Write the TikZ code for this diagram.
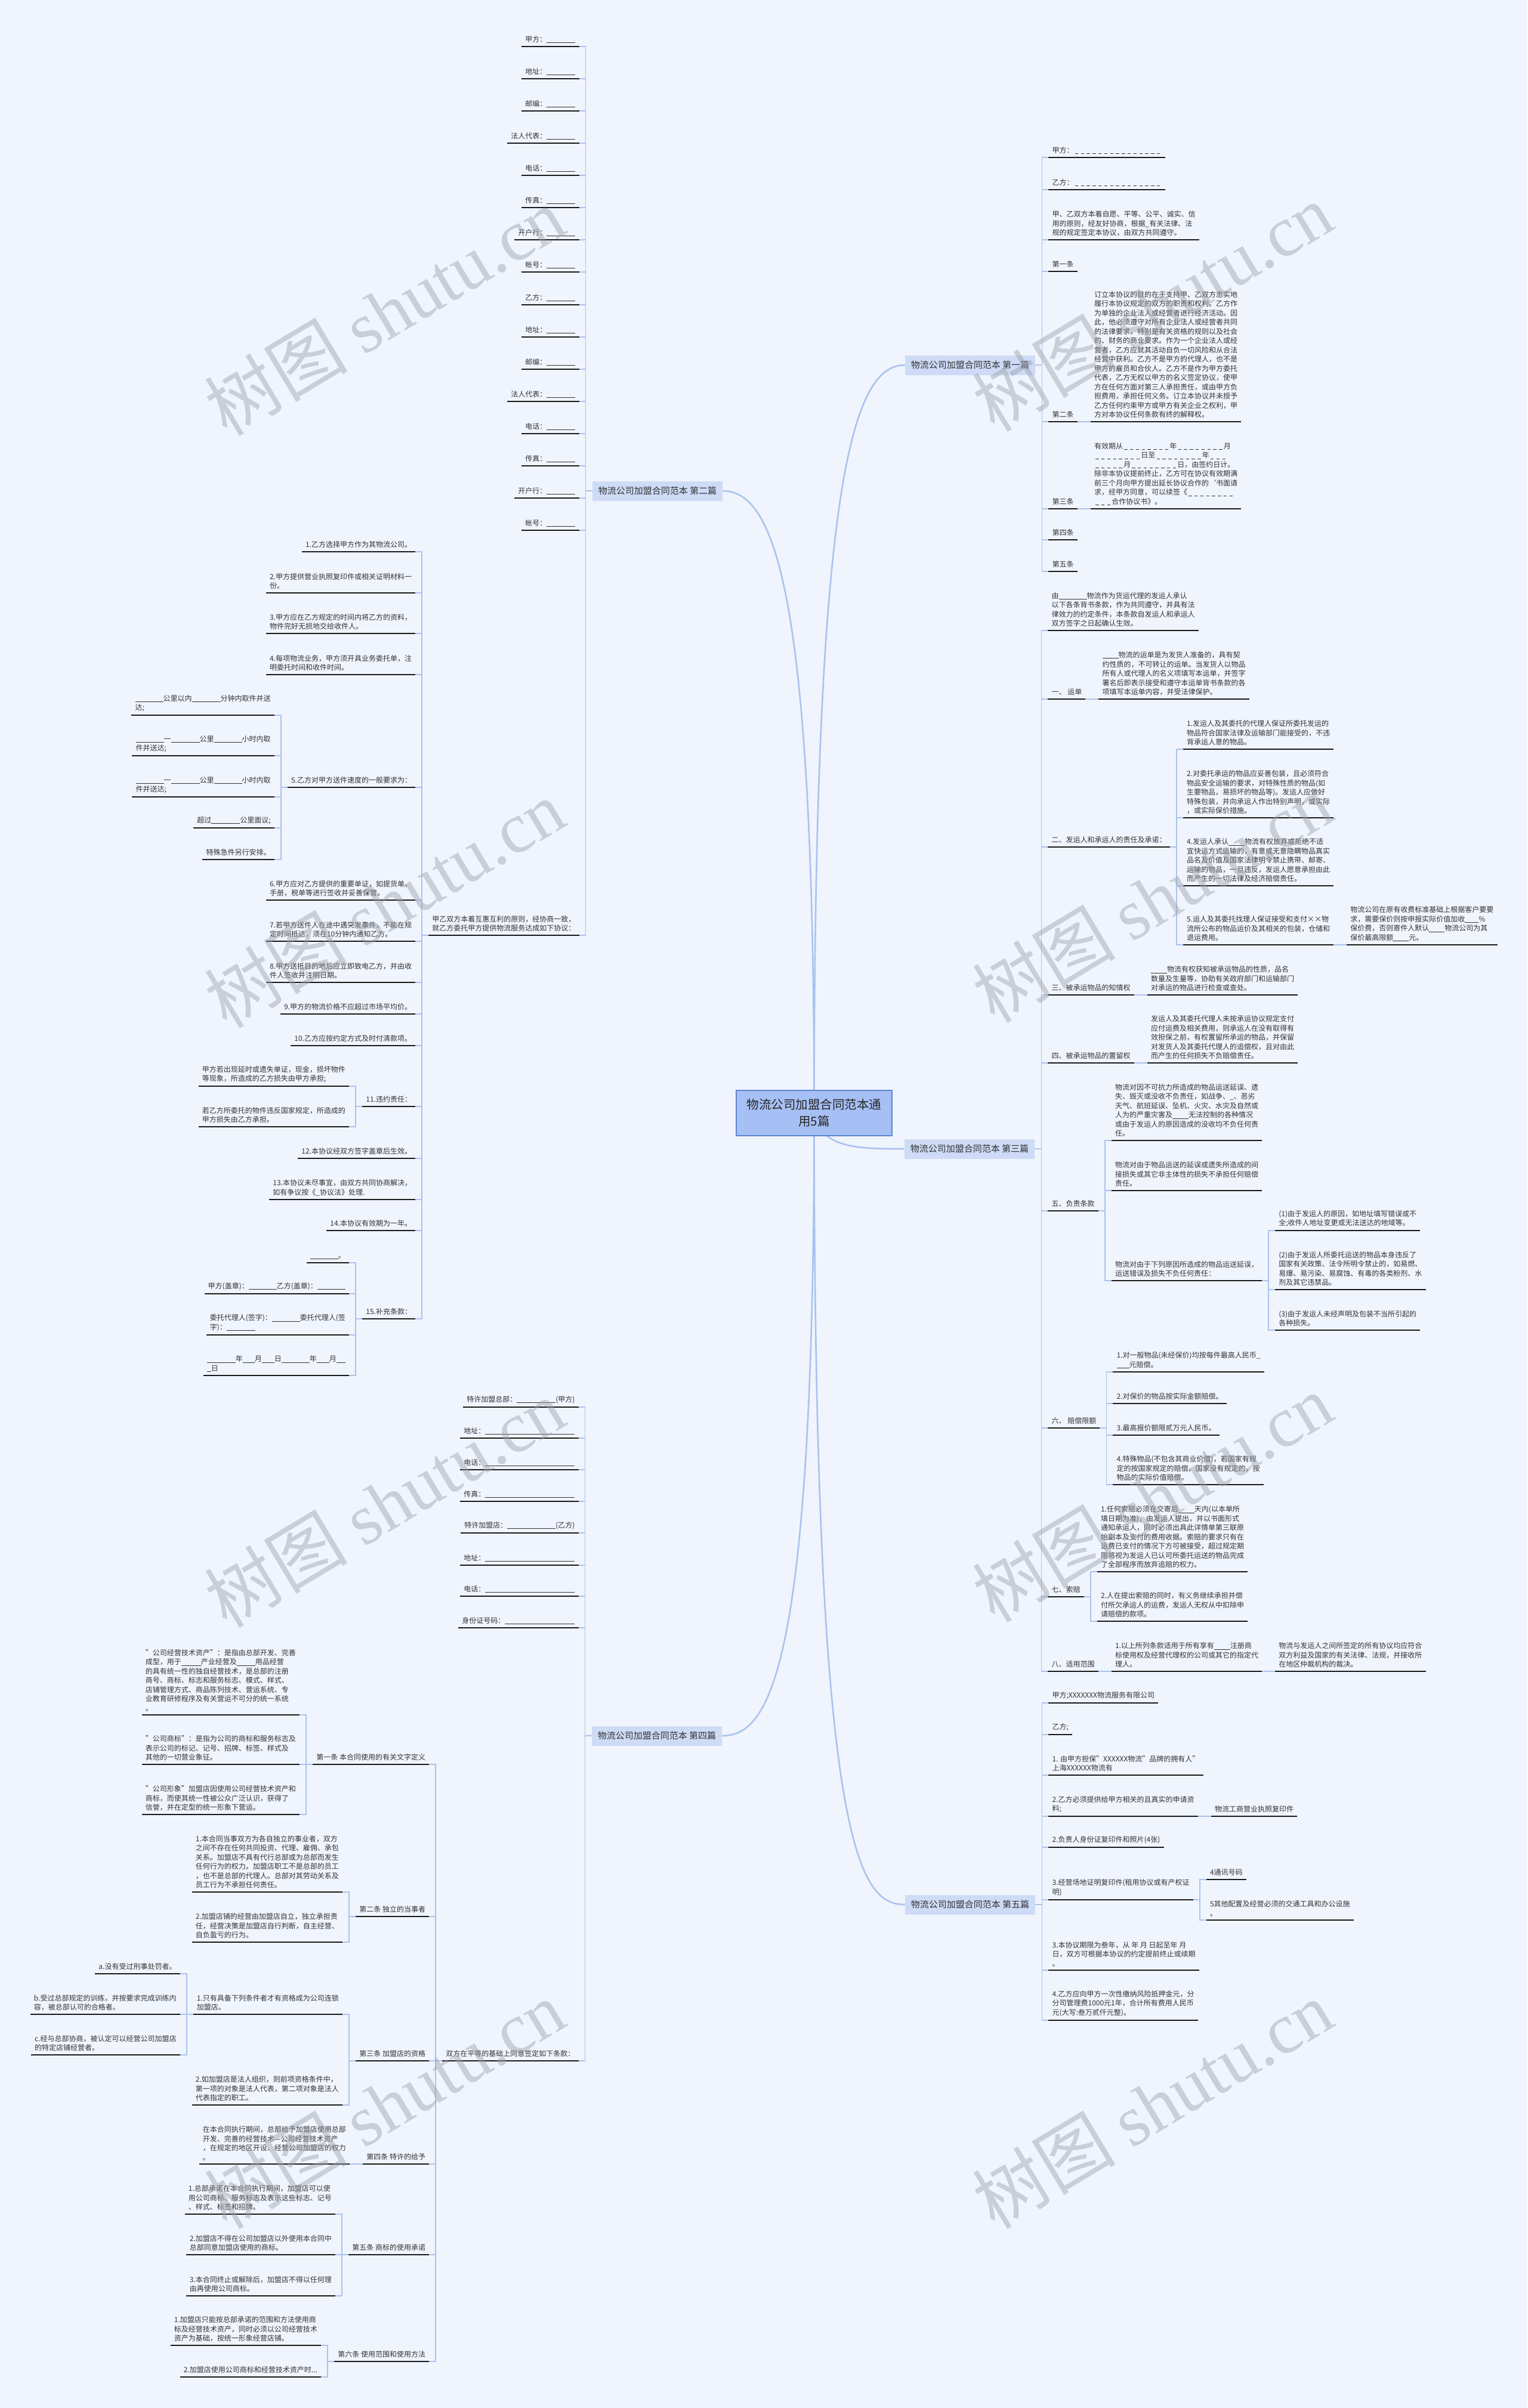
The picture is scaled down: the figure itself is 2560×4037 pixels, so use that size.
\documentclass[tikz,border=0pt]{standalone}
\usepackage{fontspec}
\setmainfont{Noto Sans CJK SC}
\newfontfamily\wmlat{Liberation Serif}
\usetikzlibrary{calc}
\definecolor{bgc}{HTML}{F0F4FC}
\definecolor{cline}{HTML}{A9C3EE}
\definecolor{bfill}{HTML}{CDDBF6}
\definecolor{rfill}{HTML}{A6BFF4}
\definecolor{rdraw}{HTML}{5E86CC}
\definecolor{tcol}{HTML}{333333}
\definecolor{wmc}{HTML}{9AA0AA}
\newcommand\lf{\fontsize{12}{15.5}\selectfont}
\newcommand\bl[1]{\rule[-1.6pt]{#1pt}{0.7pt}}
\newcommand\dsn[1]{\hbox to \dimexpr 9.8pt*#1\relax{\xleaders\hbox to 9.8pt{\hss\rule[-1.6pt]{5.5pt}{0.6pt}\hss}\hfill}}
\newcommand\RC[4]{%
  \coordinate (tmp) at ([xshift=22pt]#2);
  \node[leafR] (#1) at (tmp |- 0,#3) {#4};
  \draw[conn] (#2) -- ++(11,0) |- (#1.south west);
  \draw[uline] (#1.south west) -- (#1.south east);}
\newcommand\LC[4]{%
  \coordinate (tmp) at ([xshift=-22pt]#2);
  \node[leafL] (#1) at (tmp |- 0,#3) {#4};
  \draw[conn] (#2) -- ++(-11,0) |- (#1.south east);
  \draw[uline] (#1.south west) -- (#1.south east);}
\tikzset{
  conn/.style={draw=cline, line width=1.6pt},
  uline/.style={draw=black!90, line width=1.8pt},
  leafR/.style={anchor=south west, inner xsep=6pt, inner ysep=6pt, align=left, font=\lf, text=tcol},
  leafL/.style={anchor=south east, inner xsep=6pt, inner ysep=6pt, align=left, font=\lf, text=tcol},
  branch/.style={fill=bfill, inner xsep=10pt, inner ysep=0pt, minimum height=33pt, font=\fontsize{15}{18}\selectfont, text=tcol},
  rootbox/.style={fill=rfill, draw=rdraw, line width=1.2pt, minimum width=261pt, minimum height=76pt, align=center, font=\fontsize{20.5}{28}\selectfont, text=black!85},
  mainc/.style={draw=cline, line width=2.6pt},
  wmark/.style={rotate=31, text=wmc, opacity=0.45, inner sep=0pt}
}
\begin{document}
\begin{tikzpicture}[x=1pt,y=-1pt]
\useasboundingbox (0,0) rectangle (2560,4037);
\fill[bgc] (0,0) rectangle (2560,4037);
% branches
\node[branch] (B1) at (1626,612) {物流公司加盟合同范本 第一篇};
\node[branch] (B2) at (1102,823) {物流公司加盟合同范本 第二篇};
\node[branch] (B3) at (1625,1926) {物流公司加盟合同范本 第三篇};
\node[branch] (B4) at (1101,2910) {物流公司加盟合同范本 第四篇};
\node[branch] (B5) at (1626,3193) {物流公司加盟合同范本 第五篇};
\coordinate (Rc) at (1364.5,1866);
\draw[mainc] (Rc) .. controls (1364.5,1000) and (1300,823) .. (B2.east);
\draw[mainc] (Rc) .. controls (1364.5,800) and (1430,612) .. (B1.west);
\draw[mainc] (Rc) .. controls (1375,1926) and (1440,1926) .. (B3.west);
\draw[mainc] (Rc) .. controls (1364.5,2800) and (1290,2910) .. (B4.east);
\draw[mainc] (Rc) .. controls (1364.5,3100) and (1440,3193) .. (B5.west);
\node[rootbox] (R) at (Rc) {物流公司加盟合同范本通\\用5篇};
% ---------- 第一篇
\RC{p1a}{B1.east}{264}{甲方：\dsn{15}}
\RC{p1b}{B1.east}{318}{乙方：\dsn{15}}
\RC{p1c}{B1.east}{402}{甲、乙双方本着自愿、平等、公平、诚实、信\\用的原则，经友好协商，根据\_有关法律、法\\规的规定签定本协议，由双方共同遵守。}
\RC{p1d}{B1.east}{455}{第一条}
\RC{p1e}{B1.east}{707}{第二条}
\RC{p1e1}{p1e.south east}{707}{订立本协议的目的在于支持甲、乙双方忠实地\\履行本协议规定的双方的职责和权利。乙方作\\为单独的企业法人或经营者进行经济活动。因\\此，他必须遵守对所有企业法人或经营者共同\\的法律要求，特别是有关资格的规则以及社会\\的、财务的商业要求。作为一个企业法人或经\\营者，乙方应就其活动自负一切风险和从合法\\经营中获利。乙方不是甲方的代理人，也不是\\甲方的雇员和合伙人。乙方不是作为甲方委托\\代表，乙方无权以甲方的名义签定协议，使甲\\方在任何方面对第三人承担责任，或由甲方负\\担费用，承担任何义务。订立本协议并未授予\\乙方任何约束甲方或甲方有关企业之权利，甲\\方对本协议任何条款有终的解释权。}
\RC{p1f}{B1.east}{853}{第三条}
\RC{p1f1}{p1f.south east}{853}{有效期从\dsn{8}年\dsn{8}月\\\dsn{8}日至\dsn{8}年\dsn{3}\\\dsn{5}月\dsn{8}日，由签约日计。\\除非本协议提前终止，乙方可在协议有效期满\\前三个月向甲方提出延长协议合作的\symbol{96}书面请\\求，经甲方同意，可以续签《\dsn{8}\\\dsn{3}合作协议书》。}
\RC{p1g}{B1.east}{905}{第四条}
\RC{p1h}{B1.east}{958}{第五条}
% ---------- 第三篇
\RC{p3a}{B3.east}{1057}{由\bl{47}物流作为货运代理的发运人承认\\以下各条背书条款，作为共同遵守，并具有法\\律效力的约定条件，本条款自发运人和承运人\\双方签字之日起确认生效。}
\RC{p3b}{B3.east}{1172}{一、 运单}
\RC{p3b1}{p3b.south east}{1172}{\bl{27}物流的运单是为发货人准备的，具有契\\约性质的，不可转让的运单。当发货人以物品\\所有人或代理人的名义项填写本运单，并签字\\署名后即表示接受和遵守本运单背书条款的各\\项填写本运单内容，并受法律保护。}
\RC{p3c}{B3.east}{1420}{二、发运人和承运人的责任及承诺：}
\RC{p3c1}{p3c.south east}{1256}{1.发运人及其委托的代理人保证所委托发运的\\物品符合国家法律及运输部门能接受的，不违\\背承运人意的物品。}
\RC{p3c2}{p3c.south east}{1371}{2.对委托承运的物品应妥善包装，且必须符合\\物品安全运输的要求，对特殊性质的物品(如\\生要物品，易损坏的物品等)。发运人应做好\\特殊包装，并向承运人作出特别声明，或实际\\，或实际保价措施。}
\RC{p3c3}{p3c.south east}{1485}{4.发运人承认\bl{27}物流有权放弃或拒绝不适\\宜快运方式运输的，有意或无意隐瞒物品真实\\品名及价值及国家法律明令禁止携带、邮寄、\\运输的物品，一旦违反，发运人愿意承担由此\\而产生的一切法律及经济赔偿责任。}
\RC{p3c4}{p3c.south east}{1584}{5.运人及其委托找理人保证接受和支付××物\\流所公布的物品运价及其相关的包装，仓储和\\退运费用。}
\RC{p3c4a}{p3c4.south east}{1584}{物流公司在原有收费标准基础上根据客户要要\\求，需要保价则按申报实际价值加收\bl{23}\%\\保价费，否则寄件人默认\bl{26}物流公司为其\\保价最高限额\bl{26}元。}
\RC{p3d}{B3.east}{1668}{三、被承运物品的知情权}
\RC{p3d1}{p3d.south east}{1668}{\bl{27}物流有权获知被承运物品的性质，品名\\数量及生量等，协助有关政府部门和运输部门\\对承运的物品进行检查或查处。}
\RC{p3e}{B3.east}{1782}{四、被承运物品的置留权}
\RC{p3e1}{p3e.south east}{1782}{发运人及其委托代理人未按承运协议规定支付\\应付运费及相关费用，则承运人在没有取得有\\效担保之前，有权置留所承运的物品，并保留\\对发货人及其委托代理人的追偿权，且对由此\\而产生的任何损失不负赔偿责任。}
\RC{p3f}{B3.east}{2030}{五、负责条款}
\RC{p3f1}{p3f.south east}{1912}{物流对因不可抗力所造成的物品运送延误、遗\\失、毁灭或没收不负责任，如战争、\_、恶劣\\天气、航班延误、坠机、火灾、水灾及自然或\\人为的严重灾害及\bl{27}无法控制的各种情况\\或由于发运人的原因造成的没收均不负任何责\\任。}
\RC{p3f2}{p3f.south east}{1996}{物流对由于物品运送的延误或遗失所造成的间\\接损失或其它非主体性的损失不承担任何赔偿\\责任。}
\RC{p3f3}{p3f.south east}{2147}{物流对由于下列原因所造成的物品运送延误，\\运送错误及损失不负任何责任：}
\RC{p3f3a}{p3f3.south east}{2063}{(1)由于发运人的原因，如地址填写错误或不\\全;收件人地址变更或无法送达的地域等。}
\RC{p3f3b}{p3f3.south east}{2162}{(2)由于发运人所委托运送的物品本身违反了\\国家有关政策、法令所明令禁止的，如易燃、\\易爆、易污染、易腐蚀、有毒的各类粉剂、水\\剂及其它违禁品。}
\RC{p3f3c}{p3f3.south east}{2230}{(3)由于发运人未经声明及包装不当所引起的\\各种损失。}
\RC{p3g}{B3.east}{2394}{六、 赔偿限额}
\RC{p3g1}{p3g.south east}{2300}{1.对一般物品(未经保价)均按每件最高人民币\_\\\bl{21}元赔偿。}
\RC{p3g2}{p3g.south east}{2353}{2.对保价的物品按实际金额赔偿。}
\RC{p3g3}{p3g.south east}{2406}{3.最高报价额限贰万元人民币。}
\RC{p3g4}{p3g.south east}{2489}{4.特殊物品(不包含其商业价值)，若国家有规\\定的按国家规定的赔偿，国家没有规定的，按\\物品的实际价值赔偿。}
\RC{p3h}{B3.east}{2677}{七、索赔}
\RC{p3h1}{p3h.south east}{2635}{1.任何索赔必须在交寄后\bl{27}天内(以本单所\\填日期为准)，由发运人提出，并以书面形式\\通知承运人，同时必须出具此详情单第三联原\\始副本及支付的费用收据。索赔的要求只有在\\运费已支付的情况下方可被接受，超过规定期\\限将视为发运人已认可所委托运送的物品完成\\了全部程序而放弃追赔的权力。}
\RC{p3h2}{p3h.south east}{2718}{2.人在提出索赔的同时，有义务继续承担并偿\\付所欠承运人的运费，发运人无权从中扣除申\\请赔偿的款项。}
\RC{p3i}{B3.east}{2802}{八、适用范围}
\RC{p3i1}{p3i.south east}{2802}{1.以上所列条款适用于所有享有\bl{27}注册商\\标使用权及经营代理权的公司或其它的指定代\\理人。}
\RC{p3i2}{p3i1.south east}{2802}{物流与发运人之间所签定的所有协议均应符合\\双方利益及国家的有关法律、法规，并接收所\\在地区仲裁机构的裁决。}
% ---------- 第五篇
\RC{p5a}{B5.east}{2855}{甲方;XXXXXXX物流服务有限公司}
\RC{p5b}{B5.east}{2908}{乙方;}
\RC{p5c}{B5.east}{2976}{1. 由甲方担保"XXXXXX物流"品牌的拥有人"\\上海XXXXXX物流有}
\RC{p5d}{B5.east}{3045}{2.乙方必须提供给甲方相关的且真实的申请资\\料;}
\RC{p5d1}{p5d.south east}{3045}{物流工商营业执照复印件}
\RC{p5e}{B5.east}{3097}{2.负责人身份证复印件和照片(4张)}
\RC{p5f}{B5.east}{3185}{3.经营场地证明复印件(租用协议或有产权证\\明)}
\RC{p5f1}{p5f.south east}{3151}{4通讯号码}
\RC{p5f2}{p5f.south east}{3219}{5其他配置及经营必须的交通工具和办公设施\\。}
\RC{p5g}{B5.east}{3303}{3.本协议期限为叁年，从 年 月 日起至年 月\\日，双方可根据本协议的约定提前终止或续期\\。}
\RC{p5h}{B5.east}{3387}{4.乙方应向甲方一次性缴纳风险抵押金元，分\\分司管理费1000元1年，合计所有费用人民币\\元(大写:叁万贰仟元整)。}
% ---------- 第二篇
\LC{q1}{B2.west}{78}{甲方：\bl{48}}
\LC{q2}{B2.west}{132}{地址：\bl{48}}
\LC{q3}{B2.west}{186}{邮编：\bl{48}}
\LC{q4}{B2.west}{240}{法人代表：\bl{48}}
\LC{q5}{B2.west}{294}{电话：\bl{48}}
\LC{q6}{B2.west}{348}{传真：\bl{48}}
\LC{q7}{B2.west}{402}{开户行：\bl{48}}
\LC{q8}{B2.west}{456}{帐号：\bl{48}}
\LC{q9}{B2.west}{511}{乙方：\bl{48}}
\LC{q10}{B2.west}{565}{地址：\bl{48}}
\LC{q11}{B2.west}{619}{邮编：\bl{48}}
\LC{q12}{B2.west}{673}{法人代表：\bl{48}}
\LC{q13}{B2.west}{727}{电话：\bl{48}}
\LC{q14}{B2.west}{781}{传真：\bl{48}}
\LC{q15}{B2.west}{835}{开户行：\bl{48}}
\LC{q16}{B2.west}{889}{帐号：\bl{48}}
\LC{q17}{B2.west}{1568}{甲乙双方本着互惠互利的原则，经协商一致，\\就乙方委托甲方提供物流服务达成如下协议：}
\LC{r1}{q17.south west}{925}{1.乙方选择甲方作为其物流公司。}
\LC{r2}{q17.south west}{994}{2.甲方提供营业执照复印件或相关证明材料一\\份。}
\LC{r3}{q17.south west}{1062}{3.甲方应在乙方规定的时间内将乙方的资料，\\物件完好无损地交给收件人。}
\LC{r4}{q17.south west}{1131}{4.每项物流业务，甲方须开具业务委托单，注\\明委托时间和收件时间。}
\LC{r5}{q17.south west}{1320}{5.乙方对甲方送件速度的一般要求为：}
\LC{r5a}{r5.south west}{1199}{\bl{47}公里以内\bl{48}分钟内取件并送\\达;}
\LC{r5b}{r5.south west}{1267}{\bl{47}一\bl{48}公里\bl{47}小时内取\\件并送达;}
\LC{r5c}{r5.south west}{1336}{\bl{47}一\bl{48}公里\bl{47}小时内取\\件并送达;}
\LC{r5d}{r5.south west}{1388}{超过\bl{48}公里面议;}
\LC{r5e}{r5.south west}{1441}{特殊急件另行安排。}
\LC{r6}{q17.south west}{1509}{6.甲方应对乙方提供的重要单证，如提货单，\\手册，税单等进行签收并妥善保管。}
\LC{r7}{q17.south west}{1578}{7.若甲方送件人在途中遇突发事件，不能在规\\定时间抵达，须在10分钟内通知乙方。}
\LC{r8}{q17.south west}{1647}{8.甲方送抵目的地后应立即致电乙方，并由收\\件人签收并注明日期。}
\LC{r9}{q17.south west}{1700}{9.甲方的物流价格不应超过市场平均价。}
\LC{r10}{q17.south west}{1753}{10.乙方应按约定方式及时付清款项。}
\LC{r11}{q17.south west}{1855}{11.违约责任：}
\LC{r11a}{r11.south west}{1821}{甲方若出现延时或遗失单证，现金，损坏物件\\等现象，所造成的乙方损失由甲方承担;}
\LC{r11b}{r11.south west}{1889}{若乙方所委托的物件违反国家规定，所造成的\\甲方损失由乙方承担。}
\LC{r12}{q17.south west}{1942}{12.本协议经双方签字盖章后生效。}
\LC{r13}{q17.south west}{2011}{13.本协议未尽事宜，由双方共同协商解决，\\如有争议按《\_协议法》处理.}
\LC{r14}{q17.south west}{2063}{14.本协议有效期为一年。}
\LC{r15}{q17.south west}{2211}{15.补充条款：}
\LC{r15a}{r15.south west}{2117}{\bl{47}。}
\LC{r15b}{r15.south west}{2169}{甲方(盖章)：\bl{47}乙方(盖章)：\bl{47}}
\LC{r15c}{r15.south west}{2238}{委托代理人(签字)：\bl{47}委托代理人(签\\字)：\bl{48}}
\LC{r15d}{r15.south west}{2306}{\bl{48}年\bl{20}月\bl{21}日\bl{47}年\bl{21}月\bl{15}\\\bl{7}日}
% ---------- 第四篇
\LC{s1}{B4.west}{2359}{特许加盟总部：\bl{65}(甲方)}
\LC{s2}{B4.west}{2411}{地址：\bl{150}}
\LC{s3}{B4.west}{2464}{电话：\bl{150}}
\LC{s4}{B4.west}{2517}{传真：\bl{150}}
\LC{s5}{B4.west}{2570}{特许加盟店：\bl{81}(乙方)}
\LC{s6}{B4.west}{2624}{地址：\bl{150}}
\LC{s7}{B4.west}{2676}{电话：\bl{150}}
\LC{s8}{B4.west}{2729}{身份证号码：\bl{117}}
\LC{s9}{B4.west}{3455}{双方在平等的基础上同意签定如下条款：}
\LC{t1}{s9.south west}{2958}{第一条 本合同使用的有关文字定义}
\LC{t1a}{t1.south west}{2875}{"公司经营技术资产"：是指由总部开发、完善\\成型，用于\bl{33}产业经营及\bl{31}用品经营\\的具有统一性的独自经营技术，是总部的注册\\商号、商标、标志和服务标志、模式、样式、\\店铺管理方式、商品陈列技术、营运系统、专\\业教育研修程序及有关营运不可分的统一系统\\。}
\LC{t1b}{t1.south west}{2958}{"公司商标"：是指为公司的商标和服务标志及\\表示公司的标记、记号、招牌、标签、样式及\\其他的一切营业象征。}
\LC{t1c}{t1.south west}{3042}{"公司形象"加盟店因使用公司经营技术资产和\\商标，而使其统一性被公众广泛认识，获得了\\信誉，并在定型的统一形象下营运。}
\LC{t2}{s9.south west}{3213}{第二条 独立的当事者}
\LC{t2a}{t2.south west}{3172}{1.本合同当事双方为各自独立的事业者，双方\\之间不存在任何共同投资、代理、雇佣、承包\\关系。加盟店不具有代行总部或为总部而发生\\任何行为的权力。加盟店职工不是总部的员工\\，也不是总部的代理人。总部对其劳动关系及\\员工行为不承担任何责任。}
\LC{t2b}{t2.south west}{3256}{2.加盟店铺的经营由加盟店自立，独立承担责\\任，经营决策是加盟店自行判断，自主经营、\\自负盈亏的行为。}
\LC{t3}{s9.south west}{3455}{第三条 加盟店的资格}
\LC{t3a}{t3.south west}{3377}{1.只有具备下列条件者才有资格成为公司连锁\\加盟店。}
\LC{t3a1}{t3a.south west}{3309}{a.没有受过刑事处罚者。}
\LC{t3a2}{t3a.south west}{3377}{b.受过总部规定的训练，并按要求完成训练内\\容，被总部认可的合格者。}
\LC{t3a3}{t3a.south west}{3445}{c.经与总部协商，被认定可以经营公司加盟店\\的特定店铺经营者。}
\LC{t3b}{t3.south west}{3529}{2.如加盟店是法人组织，则前项资格条件中，\\第一项的对象是法人代表，第二项对象是法人\\代表指定的职工。}
\LC{t4}{s9.south west}{3628}{第四条 特许的给予}
\LC{t4a}{t4.south west}{3628}{在本合同执行期间，总部给予加盟店使用总部\\开发、完善的经营技术—公司经营技术资产\\，在规定的地区开设、经营公司加盟店的权力\\。}
\LC{t5}{s9.south west}{3780}{第五条 商标的使用承诺}
\LC{t5a}{t5.south west}{3712}{1.总部承诺在本合同执行期间，加盟店可以使\\用公司商标、服务标志及表示这些标志、记号\\、样式、标签和招牌。}
\LC{t5b}{t5.south west}{3780}{2.加盟店不得在公司加盟店以外使用本合同中\\总部同意加盟店使用的商标。}
\LC{t5c}{t5.south west}{3849}{3.本合同终止或解除后，加盟店不得以任何理\\由再使用公司商标。}
\LC{t6}{s9.south west}{3959}{第六条 使用范围和使用方法}
\LC{t6a}{t6.south west}{3932}{1.加盟店只能按总部承诺的范围和方法使用商\\标及经营技术资产，同时必须以公司经营技术\\资产为基础，按统一形象经营店铺。}
\LC{t6b}{t6.south west}{3985}{2.加盟店使用公司商标和经营技术资产时...}
% ---------- watermarks
\foreach \wx/\wy [count=\wi] in {644/522, 1931/515, 644/1515, 1931/1506, 644/2520, 1931/2511, 644/3528, 1931/3528} {
  \node[wmark] (wm\wi) at (\wx,\wy) {\fontsize{120}{120}\selectfont 树图 {\wmlat shutu.cn}};
}
\end{tikzpicture}
\end{document}
